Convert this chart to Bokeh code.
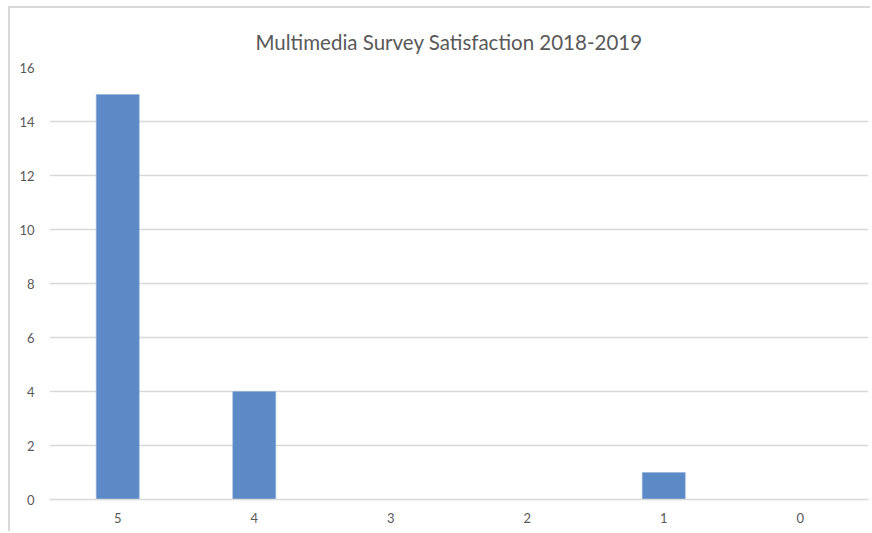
from bokeh.plotting import figure
from bokeh.models import Range1d, FactorRange, SingleIntervalTicker, ColumnDataSource
from bokeh.embed import file_html
from bokeh.resources import INLINE

categories = ["5", "4", "3", "2", "1", "0"]
values = [15, 4, 0, 0, 1, 0]
title_text = "Multimedia Survey Satisfaction 2018-2019"

FONT = "Lato"
TXT = "#595959"
GRID = "#d9d9d9"

src = ColumnDataSource(dict(cat=categories, val=values))

p = figure(width=862, height=525, output_backend="svg", toolbar_location=None,
           x_range=FactorRange(*categories, range_padding=0),
           y_range=Range1d(0, 16),
           min_border_left=39, min_border_right=4, min_border_top=59, min_border_bottom=34)

p.vbar(x="cat", top="val", width=0.315, source=src, fill_color="#5B8AC6", line_color="#8fb0d8", line_width=0.6)

p.title.text = title_text
p.title.align = "left"
p.title.offset = 206
p.title.text_font = FONT
p.title.text_font_size = "20.5px"
p.title.text_font_style = "normal"
p.title.text_color = TXT
p.title.standoff = 24
p.title.vertical_align = "top"

p.outline_line_color = None
p.background_fill_color = "white"
p.border_fill_color = "white"

p.yaxis.ticker = SingleIntervalTicker(interval=2)
p.yaxis.axis_line_color = None
p.yaxis.major_tick_line_color = None
p.yaxis.minor_tick_line_color = None
p.yaxis.major_label_standoff = 9
p.yaxis.major_label_text_font = FONT
p.yaxis.major_label_text_font_size = "13px"
p.yaxis.major_label_text_color = TXT

p.xaxis.axis_line_color = GRID
p.xaxis.axis_line_width = 1.3
p.xaxis.major_tick_line_color = None
p.xaxis.minor_tick_line_color = None
p.xaxis.major_label_standoff = 7
p.xaxis.major_label_text_font = FONT
p.xaxis.major_label_text_font_size = "13px"
p.xaxis.major_label_text_color = TXT

p.xgrid.grid_line_color = None
p.ygrid.grid_line_color = GRID
p.ygrid.grid_line_width = 1.3

p.styles = {"margin-left": "8px", "margin-top": "6px",
            "border-top": "2px solid #d9d9d9", "border-left": "2px solid #d9d9d9"}

open("out.html", "w").write(file_html(p, INLINE))
